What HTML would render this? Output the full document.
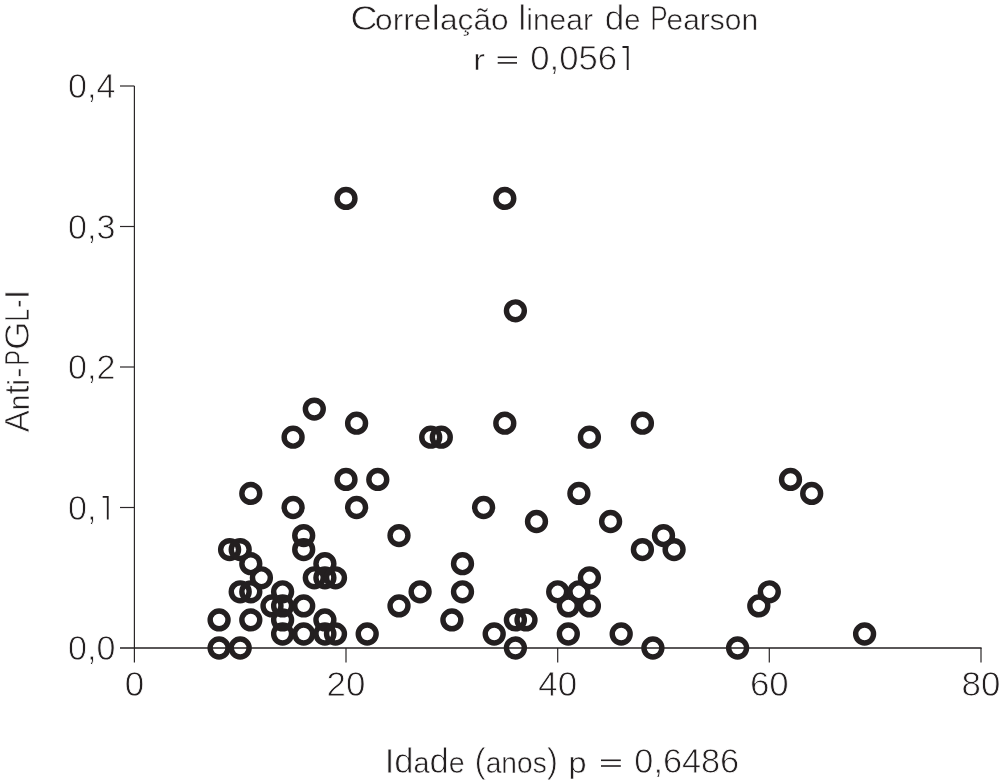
<!DOCTYPE html>
<html><head><meta charset="utf-8"><style>
html,body{margin:0;padding:0;background:#fff;overflow:hidden;width:1008px;height:784px;}
svg{display:block;will-change:transform;}
text{font-family:"Liberation Sans",sans-serif;font-size:34.9px;fill:#231f20;stroke:#fff;stroke-width:0.8px;}
</style></head><body>
<svg width="1008" height="784" viewBox="0 0 1008 784">
<rect width="1008" height="784" fill="#fff"/>
<g stroke="#2b2728" stroke-width="1.2" fill="none">
<line x1="134.4" y1="86" x2="134.4" y2="648"/>
<line x1="120" y1="507.5" x2="134.4" y2="507.5"/><line x1="120" y1="367.0" x2="134.4" y2="367.0"/><line x1="120" y1="226.5" x2="134.4" y2="226.5"/><line x1="120" y1="86.0" x2="134.4" y2="86.0"/><line x1="134.4" y1="648" x2="134.4" y2="662.4"/><line x1="346.0" y1="648" x2="346.0" y2="662.4"/><line x1="557.7" y1="648" x2="557.7" y2="662.4"/><line x1="769.3" y1="648" x2="769.3" y2="662.4"/><line x1="981.0" y1="648" x2="981.0" y2="662.4"/>
</g>
<line x1="120" y1="648" x2="981.6" y2="648" stroke="#231f20" stroke-width="1.6"/>
<g fill="none" stroke="#231f20" stroke-width="5.45"><circle cx="219.1" cy="648.0" r="8.93"/><circle cx="219.1" cy="619.9" r="8.93"/><circle cx="229.6" cy="549.6" r="8.93"/><circle cx="240.2" cy="648.0" r="8.93"/><circle cx="240.2" cy="591.8" r="8.93"/><circle cx="240.2" cy="549.6" r="8.93"/><circle cx="250.8" cy="619.9" r="8.93"/><circle cx="250.8" cy="591.8" r="8.93"/><circle cx="250.8" cy="563.7" r="8.93"/><circle cx="250.8" cy="493.4" r="8.93"/><circle cx="261.4" cy="577.8" r="8.93"/><circle cx="272.0" cy="605.9" r="8.93"/><circle cx="282.6" cy="634.0" r="8.93"/><circle cx="282.6" cy="619.9" r="8.93"/><circle cx="282.6" cy="605.9" r="8.93"/><circle cx="282.6" cy="591.8" r="8.93"/><circle cx="293.1" cy="507.5" r="8.93"/><circle cx="293.1" cy="437.2" r="8.93"/><circle cx="303.7" cy="634.0" r="8.93"/><circle cx="303.7" cy="605.9" r="8.93"/><circle cx="303.7" cy="549.6" r="8.93"/><circle cx="303.7" cy="535.6" r="8.93"/><circle cx="314.3" cy="577.8" r="8.93"/><circle cx="314.3" cy="409.1" r="8.93"/><circle cx="324.9" cy="634.0" r="8.93"/><circle cx="324.9" cy="619.9" r="8.93"/><circle cx="324.9" cy="577.8" r="8.93"/><circle cx="324.9" cy="563.7" r="8.93"/><circle cx="335.5" cy="634.0" r="8.93"/><circle cx="335.5" cy="577.8" r="8.93"/><circle cx="346.0" cy="479.4" r="8.93"/><circle cx="346.0" cy="198.4" r="8.93"/><circle cx="356.6" cy="507.5" r="8.93"/><circle cx="356.6" cy="423.2" r="8.93"/><circle cx="367.2" cy="634.0" r="8.93"/><circle cx="377.8" cy="479.4" r="8.93"/><circle cx="399.0" cy="605.9" r="8.93"/><circle cx="399.0" cy="535.6" r="8.93"/><circle cx="420.1" cy="591.8" r="8.93"/><circle cx="430.7" cy="437.2" r="8.93"/><circle cx="441.3" cy="437.2" r="8.93"/><circle cx="451.9" cy="619.9" r="8.93"/><circle cx="462.5" cy="591.8" r="8.93"/><circle cx="462.5" cy="563.7" r="8.93"/><circle cx="483.6" cy="507.5" r="8.93"/><circle cx="494.2" cy="634.0" r="8.93"/><circle cx="504.8" cy="423.2" r="8.93"/><circle cx="504.8" cy="198.4" r="8.93"/><circle cx="515.4" cy="648.0" r="8.93"/><circle cx="515.4" cy="619.9" r="8.93"/><circle cx="515.4" cy="310.8" r="8.93"/><circle cx="526.0" cy="619.9" r="8.93"/><circle cx="536.5" cy="521.5" r="8.93"/><circle cx="557.7" cy="591.8" r="8.93"/><circle cx="568.3" cy="634.0" r="8.93"/><circle cx="568.3" cy="605.9" r="8.93"/><circle cx="578.9" cy="591.8" r="8.93"/><circle cx="578.9" cy="493.4" r="8.93"/><circle cx="589.4" cy="605.9" r="8.93"/><circle cx="589.4" cy="577.8" r="8.93"/><circle cx="589.4" cy="437.2" r="8.93"/><circle cx="610.6" cy="521.5" r="8.93"/><circle cx="621.2" cy="634.0" r="8.93"/><circle cx="642.4" cy="549.6" r="8.93"/><circle cx="642.4" cy="423.2" r="8.93"/><circle cx="652.9" cy="648.0" r="8.93"/><circle cx="663.5" cy="535.6" r="8.93"/><circle cx="674.1" cy="549.6" r="8.93"/><circle cx="737.6" cy="648.0" r="8.93"/><circle cx="758.8" cy="605.9" r="8.93"/><circle cx="769.3" cy="591.8" r="8.93"/><circle cx="790.5" cy="479.4" r="8.93"/><circle cx="811.7" cy="493.4" r="8.93"/><circle cx="864.6" cy="634.0" r="8.93"/></g>
<text x="350.32" y="30.3" textLength="27.48" lengthAdjust="spacingAndGlyphs">C</text><text x="375.11" y="30.3" textLength="133.63" lengthAdjust="spacingAndGlyphs"><tspan font-size="28.97" stroke-width="0.5">orre</tspan>l<tspan font-size="28.97" stroke-width="0.5">ação</tspan></text><text x="518.19" y="30.3" textLength="74.8" lengthAdjust="spacingAndGlyphs">l<tspan font-size="28.97" stroke-width="0.5">inear</tspan></text><text x="604.68" y="30.3" textLength="35.86" lengthAdjust="spacingAndGlyphs">d<tspan font-size="28.97" stroke-width="0.5">e</tspan></text><text x="650.25" y="30.3" textLength="17.46" lengthAdjust="spacingAndGlyphs">P</text><text x="666.57" y="30.3" textLength="91.57" lengthAdjust="spacingAndGlyphs"><tspan font-size="28.97" stroke-width="0.5">earson</tspan></text><text x="473.11" y="70" textLength="12.0" lengthAdjust="spacingAndGlyphs"><tspan font-size="28.97" stroke-width="0.5">r</tspan></text><text x="530.31" y="70" textLength="86.79" lengthAdjust="spacingAndGlyphs">0,056</text><text x="384.63" y="772.9" textLength="80.12" lengthAdjust="spacingAndGlyphs">Id<tspan font-size="28.97" stroke-width="0.5">a</tspan>d<tspan font-size="28.97" stroke-width="0.5">e</tspan></text><text x="474.39" y="772.9" textLength="83.63" lengthAdjust="spacingAndGlyphs">(<tspan font-size="28.97" stroke-width="0.5">anos</tspan>)</text><text x="568.55" y="772.9" textLength="18.11" lengthAdjust="spacingAndGlyphs"><tspan font-size="28.97" stroke-width="0.5">p</tspan></text><text x="634.33" y="772.9" textLength="104.85" lengthAdjust="spacingAndGlyphs">0,6486</text><text transform="translate(29,0) rotate(-90)" x="-432.56" y="0" textLength="53.52" lengthAdjust="spacingAndGlyphs">A<tspan font-size="28.97" stroke-width="0.5">n</tspan>t<tspan font-size="28.97" stroke-width="0.5">i</tspan></text><text transform="translate(29,0) rotate(-90)" x="-377.75" y="0" textLength="10.17" lengthAdjust="spacingAndGlyphs">-</text><text transform="translate(29,0) rotate(-90)" x="-365.73" y="0" textLength="15.78" lengthAdjust="spacingAndGlyphs">P</text><text transform="translate(29,0) rotate(-90)" x="-350.11" y="0" textLength="28.62" lengthAdjust="spacingAndGlyphs">G</text><text transform="translate(29,0) rotate(-90)" x="-321.28" y="0" textLength="12.16" lengthAdjust="spacingAndGlyphs">L</text><text transform="translate(29,0) rotate(-90)" x="-308.12" y="0" textLength="8.28" lengthAdjust="spacingAndGlyphs">-</text><text transform="translate(29,0) rotate(-90)" x="-299.2" y="0" textLength="9.7" lengthAdjust="spacingAndGlyphs">I</text>
<g stroke="#231f20" stroke-width="1.6">
<line x1="497.7" y1="57.3" x2="517" y2="57.3"/><line x1="497.7" y1="62.9" x2="517" y2="62.9"/>
<line x1="601" y1="760.3" x2="620.8" y2="760.3"/><line x1="601" y1="766" x2="620.8" y2="766"/>
</g>
<text x="68.04" y="660.0" textLength="47.44" lengthAdjust="spacingAndGlyphs">0,0</text><text x="68.04" y="519.5" textLength="28.47" lengthAdjust="spacingAndGlyphs">0,</text><path d="M102.7 496.9H108.6M107.75 496.1V519.5" fill="none" stroke="#231f20" stroke-width="1.8"/><text x="68.04" y="379.0" textLength="47.44" lengthAdjust="spacingAndGlyphs">0,2</text><text x="68.04" y="238.5" textLength="47.44" lengthAdjust="spacingAndGlyphs">0,3</text><text x="68.04" y="98.0" textLength="47.44" lengthAdjust="spacingAndGlyphs">0,4</text><path d="M622.5 47H628.6M627.7 46V70" fill="none" stroke="#231f20" stroke-width="1.9"/><text x="134.4" y="696.4" text-anchor="middle">0</text><text x="346.0" y="696.4" text-anchor="middle">20</text><text x="557.7" y="696.4" text-anchor="middle">40</text><text x="769.3" y="696.4" text-anchor="middle">60</text><text x="981.0" y="696.4" text-anchor="middle">80</text>
</svg>
</body></html>
